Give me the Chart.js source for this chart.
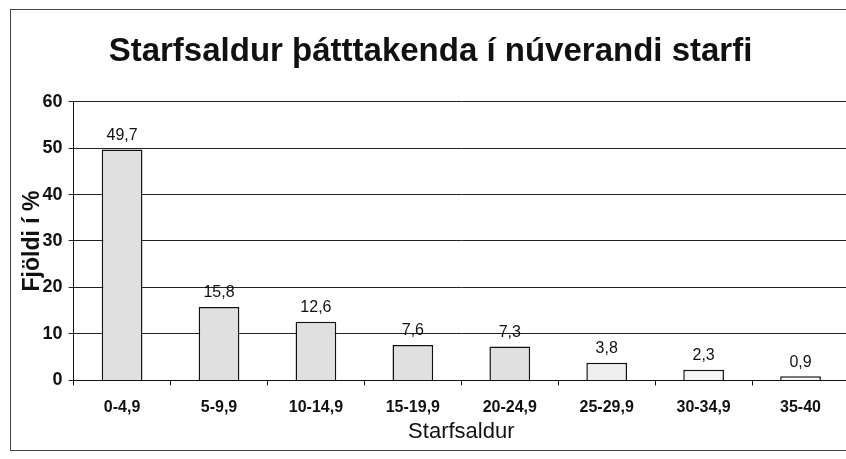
<!DOCTYPE html>
<html>
<head>
<meta charset="utf-8">
<script src="https://cdn.jsdelivr.net/npm/chart.js@4"></script>
<style>
  html, body { margin: 0; padding: 0; background: #fff; overflow: hidden; }
  #wrap { position: relative; width: 850px; height: 459px; }
  #frame { position: absolute; left: 10px; top: 9px; width: 900px; height: 440px; border: 1px solid #444; }
  canvas { position: absolute; left: 0; top: 0; }
</style>
</head>
<body>
<div id="wrap">
  <div id="frame"></div>
  <canvas id="chart" width="850" height="459"></canvas>
</div>
<script>
'use strict'

const categories = ['0-4,9', '5-9,9', '10-14,9', '15-19,9', '20-24,9', '25-29,9', '30-34,9', '35-40'];
const shares = [49.7, 15.8, 12.6, 7.6, 7.3, 3.8, 2.3, 0.9];
const barFills = ['#e0e0e0', '#e0e0e0', '#e0e0e0', '#e0e0e0', '#e0e0e0', '#eeeeee', '#f6f6f6', '#f6f6f6'];

const FONT = "'Liberation Sans', Arial, sans-serif";

// values above each bar, Icelandic decimal comma
const barValues = {
  id: 'barValues',
  afterDatasetsDraw(chart) {
    const ctx = chart.ctx;
    const meta = chart.getDatasetMeta(0);
    ctx.save();
    ctx.font = '16px ' + FONT;
    ctx.fillStyle = '#111';
    ctx.textAlign = 'center';
    ctx.textBaseline = 'middle';
    meta.data.forEach((bar, i) => {
      ctx.fillText(shares[i].toFixed(1).replace('.', ','), bar.x, bar.y - 14);
    });
    ctx.restore();
  }
};

new Chart(document.getElementById('chart'), {
  type: 'bar',
  data: {
    labels: categories,
    datasets: [{
      data: shares,
      backgroundColor: barFills,
      borderColor: '#111',
      borderWidth: 1.5,
      barPercentage: 0.84,
      categoryPercentage: 0.5
    }]
  },
  options: {
    responsive: false,
    animation: false,
    layout: { padding: { left: 12, top: 10, right: 1, bottom: 4 } },
    plugins: {
      legend: { display: false },
      tooltip: { enabled: false },
      title: {
        display: true,
        text: 'Starfsaldur þátttakenda í núverandi starfi',
        color: '#111',
        font: { family: FONT, size: 33, weight: 'bold' },
        padding: { top: 22, bottom: 30 }
      }
    },
    scales: {
      x: {
        grid: { display: true, drawOnChartArea: false, drawTicks: true, tickLength: 5, color: '#111', offset: true },
        border: { display: true, color: '#111', width: 1 },
        ticks: { color: '#111', padding: 13, font: { family: FONT, size: 16, weight: 'bold' }, maxRotation: 0 },
        title: {
          display: true,
          text: 'Starfsaldur',
          color: '#111',
          font: { family: FONT, size: 22 },
          padding: { top: -12, bottom: 10 }
        }
      },
      y: {
        min: 0,
        max: 60,
        ticks: { stepSize: 10, color: '#111', padding: 6, font: { family: FONT, size: 18, weight: 'bold' } },
        grid: { color: '#222', lineWidth: 1, tickLength: 5 },
        border: { display: true, color: '#111', width: 1 },
        title: {
          display: true,
          text: 'Fjöldi í %',
          color: '#111',
          font: { family: FONT, size: 23, weight: 'bold' },
          padding: { top: 7, bottom: -10 }
        }
      }
    }
  },
  plugins: [barValues]
});
</script>
</body>
</html>
